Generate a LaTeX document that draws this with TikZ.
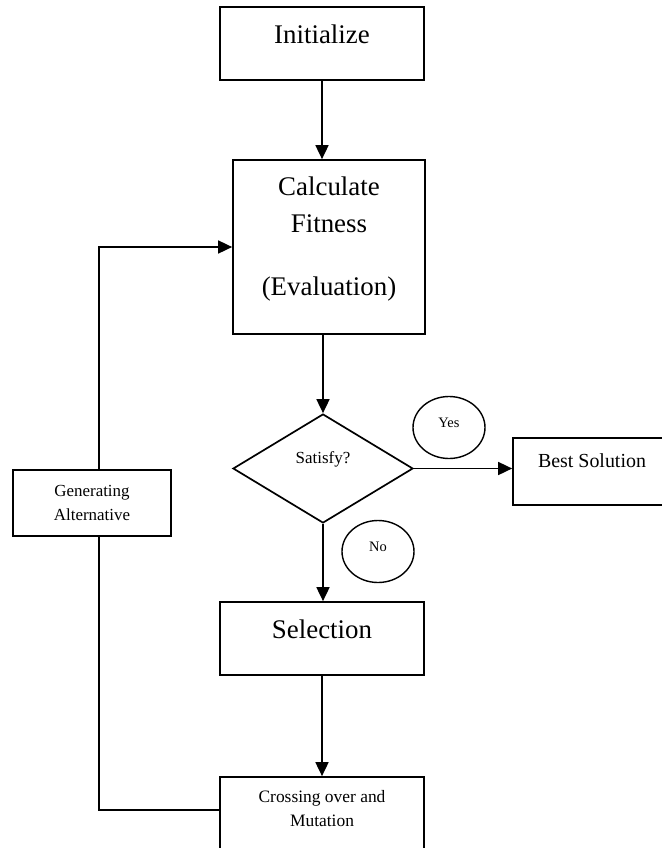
\documentclass[tikz,border=0pt]{standalone}
\usepackage{fontspec}
\setmainfont{Liberation Serif}
\usetikzlibrary{arrows.meta,shapes.geometric}
\newcommand{\bigtxt}{\fontsize{27}{37}\selectfont}
\newcommand{\midtxt}{\fontsize{17.5}{23.5}\selectfont}

\begin{document}
\begin{tikzpicture}[
  x=1bp,y=-1bp,
  every node/.style={font=\midtxt},
  box/.style={draw,line width=1.7bp,inner sep=0pt,anchor=base,align=center},
  decision/.style={draw,diamond,line width=1.7bp,inner sep=0pt,
    minimum width=180bp,minimum height=109bp,text height=12bp,text depth=23bp},
  answer/.style={draw,ellipse,line width=1.4bp,inner sep=0pt,
    minimum width=72bp,minimum height=62bp,text height=6bp,text depth=6bp,
    font=\fontsize{14.5}{17}\selectfont},
  link/.style={line width=1.7bp},
  arr/.style={link,-{Triangle[length=14bp,width=13bp]}}
]
  \useasboundingbox (0,0) rectangle (662,848);
  \clip (0,0) rectangle (662,848);
  \node[box,font=\bigtxt,minimum width=204bp,text height=36bp,text depth=37bp]
    (init) at (322,43) {Initialize};
  \node[box,font=\bigtxt,minimum width=192bp,text height=135bp,text depth=39bp]
    (calc) at (329,295) {Calculate\\Fitness\\[26bp](Evaluation)};
  \node[decision,font=\fontsize{17}{20}\selectfont] (sat) at (323,468.5) {Satisfy?};
  \node[answer] (yes) at (449,427.5) {Yes};
  \node[answer] (no) at (378,551.5) {No};
  \node[box,font=\fontsize{20}{24}\selectfont,minimum width=158bp,
    text height=29bp,text depth=38bp] (best) at (592,467) {Best Solution};
  \node[box,font=\bigtxt,minimum width=204bp,text height=36bp,text depth=37bp]
    (sel) at (322,638) {Selection};
  \node[box,minimum width=204bp,text height=49bp,text depth=60bp]
    (cross) at (322,826) {Crossing over and\\Mutation};
  \node[box,font=\fontsize{17}{24}\selectfont,minimum width=158bp,
    text height=50bp,text depth=16bp] (gen) at (92,520) {Generating\\Alternative};

  % feedback loop
  \coordinate (loopbot) at (99,810);
  \coordinate (looptop) at (99,247);

  \draw[arr] (init.south) -- (init.south |- calc.north);
  \draw[arr] (calc.south -| sat.north) -- (sat.north);
  \draw[arr] (sat.east) -- (sat.east -| best.west);
  \foreach \a/\b in {sat/sel,sel/cross} {\draw[arr] (\a.south) -- (\a.south |- \b.north);}
  \draw[link] (cross.west |- loopbot) -- (loopbot) -- (gen.south -| loopbot);
  \draw[arr] (gen.north -| looptop) -- (looptop) -- (calc.west |- looptop);
\end{tikzpicture}
\end{document}
